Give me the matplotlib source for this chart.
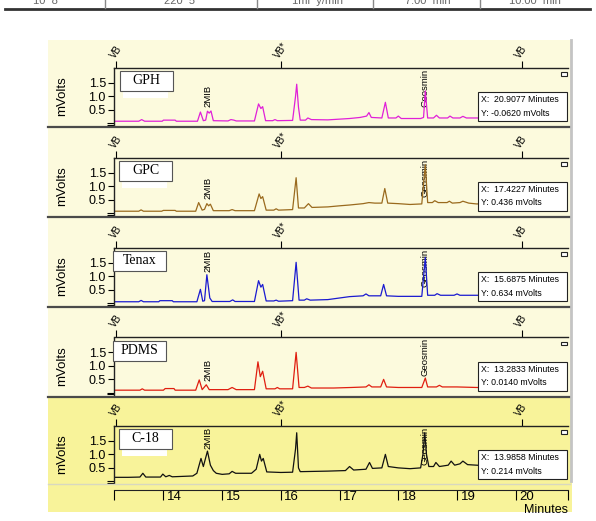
import matplotlib.pyplot as plt
from matplotlib.patches import Rectangle
from matplotlib.lines import Line2D
from matplotlib.transforms import ScaledTranslation

W, H = 596, 521

# retention time (min) and detector signal (mV)
gph_t = [13.15, 13.58, 13.63, 13.68, 13.98, 14.0, 14.2, 14.22, 14.58, 14.63, 14.68, 14.72, 14.75, 14.78,
         14.81, 14.85, 15.1, 15.15, 15.2, 15.24, 15.55, 15.62, 15.66, 15.69, 15.74, 15.86, 15.9, 15.94,
         16.2, 16.25, 16.27, 16.3, 16.33, 16.42, 16.46, 16.52, 16.8, 17.17, 17.35, 17.46, 17.5, 17.54,
         17.72, 17.78, 17.83, 17.96, 18.0, 18.05, 18.38, 18.43, 18.46, 18.5, 18.6, 18.65, 18.7, 18.84,
         18.88, 18.93, 19.05, 19.1, 19.16, 19.3, 20.89]
gph_mv = [0.08, 0.08, 0.14, 0.08, 0.08, 0.12, 0.12, 0.08, 0.08, 0.42, 0.1, 0.12, 0.45, 0.38,
          0.46, 0.1, 0.09, 0.14, 0.12, 0.09, 0.09, 0.72, 0.55, 0.62, 0.1, 0.1, 0.14, 0.1,
          0.11, 1.0, 1.45, 0.6, 0.12, 0.12, 0.2, 0.14, 0.13, 0.18, 0.22, 0.27, 0.4, 0.22,
          0.2, 0.78, 0.2, 0.2, 0.27, 0.18, 0.18, 0.22, 1.2, 0.2, 0.2, 0.3, 0.2, 0.2,
          0.27, 0.2, 0.2, 0.26, 0.2, 0.2, 0.2]

gpc_t = [13.15, 13.58, 13.62, 13.66, 13.97, 14.0, 14.2, 14.22, 14.55, 14.6, 14.66, 14.7, 14.74, 14.77,
         14.8, 14.85, 15.12, 15.17, 15.22, 15.55, 15.63, 15.66, 15.69, 15.75, 15.88, 15.92, 15.96,
         16.2, 16.26, 16.3, 16.4, 16.47, 16.53, 16.8, 17.0, 17.17, 17.4, 17.5, 17.6, 17.72, 17.77,
         17.82, 18.0, 18.2, 18.4, 18.46, 18.5, 18.58, 18.62, 18.68, 18.83, 18.87, 18.92, 19.05, 19.1,
         19.2, 19.33, 20.89]
gpc_mv = [0.08, 0.08, 0.13, 0.08, 0.08, 0.11, 0.11, 0.08, 0.08, 0.4, 0.12, 0.15, 0.36, 0.28,
          0.34, 0.1, 0.1, 0.14, 0.1, 0.1, 0.72, 0.55, 0.62, 0.12, 0.12, 0.17, 0.12,
          0.14, 1.32, 0.2, 0.2, 0.36, 0.22, 0.24, 0.28, 0.31, 0.36, 0.4, 0.38, 0.38, 0.92,
          0.38, 0.36, 0.33, 0.35, 1.8, 0.4, 0.4, 0.47, 0.4, 0.4, 0.45, 0.38, 0.4, 0.45,
          0.38, 0.35, 0.35]

tenax_t = [13.15, 13.58, 13.62, 13.66, 13.92, 13.94, 14.15, 14.17, 14.57, 14.63, 14.67, 14.7, 14.74,
           14.79, 14.83, 15.13, 15.18, 15.22, 15.55, 15.62, 15.66, 15.69, 15.75, 15.88, 15.92, 15.96,
           16.2, 16.26, 16.31, 16.4, 16.44, 16.5, 16.8, 17.17, 17.4, 17.45, 17.5, 17.7, 17.75, 17.8,
           18.0, 18.4, 18.46, 18.5, 18.62, 18.66, 18.72, 18.95, 19.0, 19.05, 19.33, 20.89]
tenax_mv = [0.06, 0.06, 0.11, 0.06, 0.06, 0.1, 0.1, 0.06, 0.06, 0.52, 0.08, 0.1, 1.06,
            0.2, 0.07, 0.07, 0.13, 0.07, 0.07, 0.84, 0.6, 0.7, 0.09, 0.09, 0.12, 0.08,
            0.1, 1.52, 0.12, 0.12, 0.17, 0.12, 0.14, 0.25, 0.28, 0.35, 0.28, 0.28, 0.7, 0.28,
            0.26, 0.26, 1.7, 0.3, 0.3, 0.36, 0.3, 0.3, 0.35, 0.3, 0.3, 0.3]

pdms_t = [13.15, 13.6, 13.64, 13.68, 14.0, 14.03, 14.18, 14.2, 14.55, 14.61, 14.66, 14.73, 14.78,
          15.1, 15.17, 15.24, 15.55, 15.61, 15.65, 15.69, 15.75, 15.9, 15.94, 15.98, 16.2, 16.26,
          16.31, 16.4, 16.46, 16.52, 16.9, 17.2, 17.45, 17.5, 17.55, 17.7, 17.75, 17.8, 18.0, 18.4,
          18.46, 18.5, 18.65, 18.7, 18.75, 19.0, 19.33, 20.89]
pdms_mv = [0.1, 0.1, 0.15, 0.1, 0.1, 0.16, 0.16, 0.1, 0.1, 0.48, 0.12, 0.3, 0.12,
           0.12, 0.2, 0.12, 0.12, 1.15, 0.6, 0.8, 0.15, 0.15, 0.2, 0.15, 0.15, 1.5,
           0.2, 0.2, 0.25, 0.18, 0.18, 0.2, 0.22, 0.3, 0.22, 0.22, 0.5, 0.22, 0.2, 0.2,
           0.55, 0.22, 0.22, 0.28, 0.22, 0.22, 0.2, 0.2]

c18_t = [13.15, 13.4, 13.6, 13.65, 13.7, 13.95, 13.99, 14.04, 14.1, 14.15, 14.5, 14.57, 14.64, 14.68,
         14.75, 14.8, 14.85, 14.9, 15.0, 15.12, 15.17, 15.23, 15.5, 15.58, 15.64, 15.67, 15.7, 15.76,
         16.0, 16.2, 16.25, 16.27, 16.3, 16.33, 16.8, 17.1, 17.17, 17.24, 17.45, 17.51, 17.56, 17.72,
         17.78, 17.83, 18.0, 18.2, 18.38, 18.42, 18.45, 18.48, 18.52, 18.6, 18.64, 18.7, 18.85, 18.9,
         18.96, 19.05, 19.1, 19.18, 19.33, 20.89]
c18_mv = [0.15, 0.15, 0.16, 0.3, 0.16, 0.16, 0.27, 0.17, 0.22, 0.17, 0.2, 0.3, 0.85, 0.55,
          1.12, 0.6, 0.4, 0.3, 0.26, 0.28, 0.37, 0.3, 0.3, 0.45, 1.0, 0.75, 0.85, 0.35,
          0.33, 0.34, 1.2, 1.8, 0.5, 0.36, 0.38, 0.4, 0.55, 0.42, 0.45, 0.7, 0.48, 0.5,
          1.0, 0.55, 0.5, 0.47, 0.5, 1.0, 1.8, 1.0, 0.55, 0.55, 0.7, 0.55, 0.6, 0.75,
          0.6, 0.65, 0.75, 0.62, 0.6, 0.4]

names = ['GPH', 'GPC', 'Tenax', 'PDMS', 'C-18']
traces_t = [gph_t, gpc_t, tenax_t, pdms_t, c18_t]
traces_mv = [gph_mv, gpc_mv, tenax_mv, pdms_mv, c18_mv]
colors = ['#e020d8', '#9a6a1e', '#1a1ad0', '#e01e10', '#111111']
cursor_x = ['20.9077', '17.4227', '15.6875', '13.2833', '13.9858']
cursor_y = ['-0.0620', '0.436', '0.634', '0.0140', '0.214']
mib_label_y = [0.6, 0.52, 1.15, 0.45, 1.2]
mib_time = 14.76
geosmin_time = 18.46
vb_times = [13.2, 16.0, 20.1]
vb_labels = ['VB', 'VB*', 'VB']
x_ticks = [14, 15, 16, 17, 18, 19, 20]
x_min, x_max = 13.15, 20.89

panel_tops = [68, 158, 248, 337.5, 426]
panel_h = 57
ax_left, ax_right = 113.5, 568
box_left = [120, 119, 113, 113, 119]

FONT = 'Liberation Sans'

fig = plt.figure(figsize=(W / 100, H / 100), dpi=100)
fig.patch.set_facecolor('white')


def fig_rect(x0, y0, x1, y1, **kw):
    return Rectangle((x0 / W, 1 - y1 / H), (x1 - x0) / W, (y1 - y0) / H,
                     transform=fig.transFigure, **kw)


def fig_line(x0, y0, x1, y1, **kw):
    fig.add_artist(Line2D([x0 / W, x1 / W], [1 - y0 / H, 1 - y1 / H],
                          transform=fig.transFigure, **kw))


# table remnant at the very top (its text is cut off, as in the scan)
fig_line(5, 8.5, 590, 8.5, color='#333333', lw=2)
for xs in [105, 257, 373, 480]:
    fig_line(xs, 0, xs, 8, color='#888888', lw=1)
for xs, s in zip([45, 180, 318, 428, 535], ['10  8', '220  5', '1ml  y/min', '7.00  min', '10.00  min']):
    fig.text(xs / W, 1 - 0.5 / H, s, ha='center', va='center', fontsize=8, color='#666666', family=FONT)

# software window background
fig.patches.append(fig_rect(48, 40, 571, 512, facecolor='#fcfadd', edgecolor='none', zorder=-2))
fig.patches.append(fig_rect(48, 395.5, 572, 512, facecolor='#f8f39a', edgecolor='none', zorder=-1))

for i, name in enumerate(names):
    top = panel_tops[i]
    bot = top + panel_h
    ax = fig.add_axes([ax_left / W, 1 - bot / H, (ax_right - ax_left) / W, panel_h / H])
    ax.set_facecolor('none')
    ax.plot(traces_t[i], traces_mv[i], color=colors[i], lw=0.9, zorder=2)
    ax.set_xlim(x_min, x_max)
    ax.set_ylim(-0.06, 2.05)

    for sp in ['right', 'bottom', 'top']:
        ax.spines[sp].set_visible(False)
    ax.spines['left'].set_color('#222222')
    ax.spines['left'].set_linewidth(1)

    ax.set_yticks([0.5, 1.0, 1.5])
    ax.set_yticklabels(['0.5', '1.0', '1.5'], family=FONT, fontsize=9)
    ax.set_yticks([-0.045, 0.0], minor=True)
    ax.tick_params(axis='y', which='major', direction='out', length=4, width=0.8, pad=1.5)
    ax.tick_params(axis='y', which='minor', direction='out', length=5, width=0.8)
    ax.set_ylabel('mVolts', family=FONT, fontsize=9.5)
    ax.yaxis.set_label_coords(-0.10, 0.5)

    # valve event markers on top
    sec = ax.secondary_xaxis('top')
    sec.set_xticks(vb_times, labels=vb_labels)
    sec.tick_params(direction='out', length=5, width=0.8, pad=1)
    sec.spines['top'].set_color('#222222')
    sec.spines['top'].set_linewidth(1)
    for lbl in sec.get_xticklabels():
        lbl.set_rotation(55)
        lbl.set_ha('left')
        lbl.set_va('bottom')
        lbl.set_rotation_mode('anchor')
        lbl.set_fontsize(7)
        lbl.set_family(FONT)

    if i < 4:
        ax.set_xticks([])
        fig_line(48, bot + 2, 570, bot + 2, color='#4a4a4a', lw=1.6, zorder=3)
    else:
        ax.spines['bottom'].set_visible(True)
        ax.spines['bottom'].set_position(('outward', 5))
        ax.spines['bottom'].set_color('#222222')
        ax.set_xticks([x_min] + x_ticks + [x_max],
                      labels=[''] + [str(v) for v in x_ticks] + [''])
        ax.tick_params(axis='x', direction='out', length=7, width=0.8, pad=-6)
        shift = ScaledTranslation(2.5 / 72, 0, fig.dpi_scale_trans)
        for lbl in ax.get_xticklabels():
            lbl.set_ha('left')
            lbl.set_family(FONT)
            lbl.set_fontsize(9.5)
            lbl.set_transform(lbl.get_transform() + shift)
        fig_line(48, bot + 1, 570, bot + 1, color='#d8d8c0', lw=1, zorder=3)

    # peak labels
    ax.text(mib_time, mib_label_y[i], '2MIB', rotation=90, ha='center', va='bottom',
            fontsize=6.8, family=FONT, zorder=3)
    ax.text(geosmin_time, 0.62, 'Geosmin', rotation=90, ha='center', va='bottom',
            fontsize=6.8, family=FONT, zorder=1, clip_on=False)

    # sample name box
    bl = box_left[i]
    ax.add_patch(fig_rect(bl, top + 3, bl + 53, top + 23, facecolor='white', edgecolor='#555555',
                          lw=0.8, zorder=5, clip_on=False))
    if i in (0, 1, 4):
        ax.add_patch(fig_rect(bl + 3, top + 23.5, bl + 48, top + 30, facecolor='white',
                              edgecolor='none', zorder=4, clip_on=False))
    ax.text((bl + 26.5) / W, 1 - (top + 13) / H, name, transform=fig.transFigure, ha='center',
            va='center', family='Liberation Serif', fontsize=10, zorder=6)

    # cursor readout box
    ax.add_patch(fig_rect(478, bot - 33, 567, bot - 4, facecolor='white', edgecolor='#222222',
                          lw=0.8, zorder=5, clip_on=False))
    ax.text(481 / W, 1 - (bot - 25) / H, 'X:  ' + cursor_x[i] + ' Minutes', transform=fig.transFigure,
            ha='left', va='center', family=FONT, fontsize=6.3, zorder=6)
    ax.text(481 / W, 1 - (bot - 12) / H, 'Y: ' + cursor_y[i] + ' mVolts', transform=fig.transFigure,
            ha='left', va='center', family=FONT, fontsize=6.3, zorder=6)

    # little window glyph at top right
    ax.add_patch(fig_rect(561, top + 4, 567, top + 7.5, facecolor='white', edgecolor='#222222',
                          lw=0.8, zorder=5, clip_on=False))

# right border of the window
fig_line(570.5, 40, 570.5, 481, color='#c4c4c4', lw=2, zorder=3)

fig.text(568 / W, 1 - 510 / H, 'Minutes', ha='right', va='center', family=FONT, fontsize=9)

fig.savefig('out.png', dpi=100)
